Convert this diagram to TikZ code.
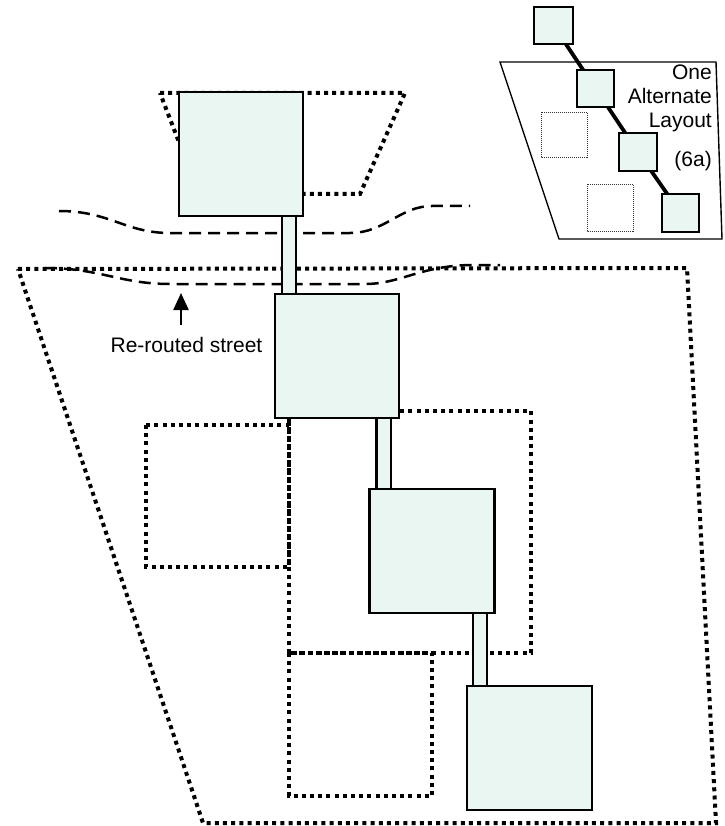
\documentclass[tikz,border=0pt]{standalone}
\usepackage{fontspec}
\setmainfont{Liberation Sans}
\usetikzlibrary{calc,arrows.meta}
\definecolor{mint}{RGB}{234,246,241}
\tikzset{
  bld/.style={draw=black,line width=2.4pt,fill=mint,inner sep=0pt,outer sep=0pt},
  conn/.style={draw=black,line width=2.2pt,fill=mint},
  site/.style={draw=black,line width=4pt,dash pattern=on 4pt off 4.2pt},
  street/.style={draw=black,line width=2.5pt,dash pattern=on 12pt off 7pt},
  ibld/.style={draw=black,line width=1.5pt,fill=mint,inner sep=0pt,outer sep=0pt},
  isite/.style={draw=black!80,line width=0.9pt,dash pattern=on 1pt off 1pt},
  ilink/.style={draw=black,line width=3.8pt},
  lbl/.style={font=\fontsize{21}{24}\selectfont,inner sep=0pt},
  arr/.style={draw=black,line width=2.4pt,-{Triangle[length=17pt,width=15pt]}}
}
\begin{document}
\begin{tikzpicture}[x=1pt,y=-1pt]
\useasboundingbox (0,0) rectangle (724,826);
% site outlines
\draw[site] (18,269) -- (687,268) -- (716,823) -- (203,823) -- cycle;
\draw[site] (160,93) -- (405,93) -- (360,194) -- (199,194) -- cycle;
% streets
\draw[street] (59,211) .. controls (110,211) and (125,233) .. (170,233) -- (350,233) .. controls (385,233) and (400,206) .. (432,206) -- (470,206);
\draw[street] (45,268) .. controls (100,268) and (120,284) .. (170,284) -- (365,284) .. controls (400,284) and (420,266) .. (470,265) -- (500,265);
% dotted parcels
\draw[site] (146,425) rectangle (289,567);
\draw[site] (289,411) rectangle (531,653);
\draw[site] (289,653) rectangle (432,796);
% buildings
\node[bld,minimum width=124pt,minimum height=124pt] (b1) at (241,154) {};
\node[bld,minimum width=124pt,minimum height=124pt] (b2) at (337,356) {};
\node[bld,minimum width=125pt,minimum height=124pt] (b3) at (432,551) {};
\node[bld,minimum width=125pt,minimum height=124pt] (b4) at (529.5,748) {};
% connectors
\draw[conn] ($(b1.south east)+(-21,0)$) rectangle ($(b2.north west)+(21,0)$);
\draw[conn] ($(b2.south east)+(-8,0)$) rectangle ($(b3.north west)+(7,0)$);
\draw[conn] ($(b3.south east)+(-7.5,0)$) rectangle ($(b4.north west)+(6,0)$);
% label and arrow
\node[lbl,anchor=base] (street) at (186.5,352) {Re-routed street};
\coordinate (arrbase) at (181,325);
\coordinate (arrtip) at (181,293);
\draw[arr] (arrbase) -- (arrtip);
% inset
\draw[draw=black,line width=1.4pt] (500,62) -- (716,62) -- (722,239) -- (559,239) -- cycle;
\draw[isite] (541,112) rectangle (587,157);
\draw[isite] (587,184) rectangle (633,231);
\node[ibld,minimum width=39pt,minimum height=37pt] (ia) at (553.5,25.5) {};
\node[ibld,minimum width=37pt,minimum height=37pt] (ib) at (595.5,88.5) {};
\node[ibld,minimum width=38pt,minimum height=38pt] (ic) at (638,152) {};
\node[ibld,minimum width=37pt,minimum height=38pt] (id) at (680.5,213) {};
\draw[ilink] (ia) -- (ib);
\draw[ilink] (ib) -- (ic);
\draw[ilink] (ic) -- (id);
\node[lbl,anchor=base east] (t1) at (712,80) {One};
\node[lbl,anchor=base east] (t2) at (712,103.5) {Alternate};
\node[lbl,anchor=base east] (t3) at (712,128) {Layout};
\node[lbl,anchor=base east] (t4) at (712,167) {(6a)};
\end{tikzpicture}
\end{document}
